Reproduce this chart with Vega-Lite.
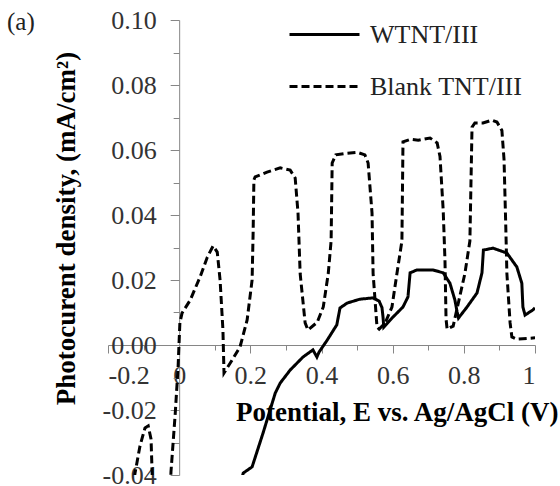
{
  "$schema": "https://vega.github.io/schema/vega-lite/v6.json",
  "autosize": {"type": "none"},
  "width": 427,
  "height": 455,
  "padding": {"left": 108, "top": 20, "right": 25, "bottom": 11},
  "background": "white",
  "title": {
    "text": "(a)",
    "anchor": "start",
    "frame": "group",
    "orient": "top",
    "offset": 0,
    "dx": -101,
    "dy": 49,
    "baseline": "middle",
    "font": "Liberation Serif",
    "fontSize": 25,
    "fontWeight": "normal",
    "color": "#222222"
  },
  "config": {
    "font": "Liberation Serif",
    "view": {"stroke": null},
    "axis": {
      "grid": false,
      "domainColor": "#868686",
      "domainWidth": 1,
      "tickColor": "#868686",
      "tickWidth": 1,
      "labelFont": "Liberation Serif",
      "labelFontSize": 26,
      "labelColor": "#333333",
      "titleFont": "Liberation Serif",
      "titleFontSize": 27,
      "titleFontWeight": "bold",
      "titleColor": "black",
      "labelOverlap": false
    }
  },
  "data": {
    "values": [
      {"series": "Blank TNT/III", "x": -0.135, "y": -0.048},
      {"series": "Blank TNT/III", "x": -0.124, "y": -0.0394},
      {"series": "Blank TNT/III", "x": -0.11, "y": -0.031},
      {"series": "Blank TNT/III", "x": -0.096, "y": -0.0255},
      {"series": "Blank TNT/III", "x": -0.087, "y": -0.0249},
      {"series": "Blank TNT/III", "x": -0.079, "y": -0.029},
      {"series": "Blank TNT/III", "x": -0.076, "y": -0.0394},
      {"series": "Blank TNT/III", "x": -0.073, "y": -0.05},
      {"series": "Blank TNT/III", "x": -0.05, "y": -0.07},
      {"series": "Blank TNT/III", "x": -0.027, "y": -0.05},
      {"series": "Blank TNT/III", "x": -0.023, "y": -0.039},
      {"series": "Blank TNT/III", "x": -0.011, "y": -0.021},
      {"series": "Blank TNT/III", "x": -0.003, "y": -0.0068},
      {"series": "Blank TNT/III", "x": 0.0, "y": 0.0015},
      {"series": "Blank TNT/III", "x": 0.002, "y": 0.0068},
      {"series": "Blank TNT/III", "x": 0.008, "y": 0.0098},
      {"series": "Blank TNT/III", "x": 0.031, "y": 0.0138},
      {"series": "Blank TNT/III", "x": 0.059, "y": 0.021},
      {"series": "Blank TNT/III", "x": 0.079, "y": 0.027},
      {"series": "Blank TNT/III", "x": 0.0955, "y": 0.0305},
      {"series": "Blank TNT/III", "x": 0.107, "y": 0.0286},
      {"series": "Blank TNT/III", "x": 0.115, "y": 0.02},
      {"series": "Blank TNT/III", "x": 0.123, "y": 0.0046},
      {"series": "Blank TNT/III", "x": 0.126, "y": -0.0086},
      {"series": "Blank TNT/III", "x": 0.149, "y": -0.0046},
      {"series": "Blank TNT/III", "x": 0.171, "y": -0.0006},
      {"series": "Blank TNT/III", "x": 0.191, "y": 0.0077},
      {"series": "Blank TNT/III", "x": 0.205, "y": 0.02},
      {"series": "Blank TNT/III", "x": 0.208, "y": 0.0354},
      {"series": "Blank TNT/III", "x": 0.21, "y": 0.0508},
      {"series": "Blank TNT/III", "x": 0.2135, "y": 0.0517},
      {"series": "Blank TNT/III", "x": 0.247, "y": 0.0532},
      {"series": "Blank TNT/III", "x": 0.284, "y": 0.0545},
      {"series": "Blank TNT/III", "x": 0.312, "y": 0.0538},
      {"series": "Blank TNT/III", "x": 0.326, "y": 0.0514},
      {"series": "Blank TNT/III", "x": 0.334, "y": 0.0406},
      {"series": "Blank TNT/III", "x": 0.34, "y": 0.022},
      {"series": "Blank TNT/III", "x": 0.354, "y": 0.0068},
      {"series": "Blank TNT/III", "x": 0.362, "y": 0.0046},
      {"series": "Blank TNT/III", "x": 0.388, "y": 0.007},
      {"series": "Blank TNT/III", "x": 0.405, "y": 0.0117},
      {"series": "Blank TNT/III", "x": 0.419, "y": 0.022},
      {"series": "Blank TNT/III", "x": 0.427, "y": 0.032},
      {"series": "Blank TNT/III", "x": 0.43, "y": 0.056},
      {"series": "Blank TNT/III", "x": 0.44, "y": 0.0585},
      {"series": "Blank TNT/III", "x": 0.47, "y": 0.059},
      {"series": "Blank TNT/III", "x": 0.5, "y": 0.0593},
      {"series": "Blank TNT/III", "x": 0.522, "y": 0.0585},
      {"series": "Blank TNT/III", "x": 0.531, "y": 0.056},
      {"series": "Blank TNT/III", "x": 0.542, "y": 0.0406},
      {"series": "Blank TNT/III", "x": 0.545, "y": 0.022},
      {"series": "Blank TNT/III", "x": 0.556, "y": 0.0055},
      {"series": "Blank TNT/III", "x": 0.562, "y": 0.0049},
      {"series": "Blank TNT/III", "x": 0.579, "y": 0.0068},
      {"series": "Blank TNT/III", "x": 0.598, "y": 0.0117},
      {"series": "Blank TNT/III", "x": 0.612, "y": 0.022},
      {"series": "Blank TNT/III", "x": 0.626, "y": 0.032},
      {"series": "Blank TNT/III", "x": 0.629, "y": 0.0625},
      {"series": "Blank TNT/III", "x": 0.65, "y": 0.0633},
      {"series": "Blank TNT/III", "x": 0.672, "y": 0.063},
      {"series": "Blank TNT/III", "x": 0.705, "y": 0.0637},
      {"series": "Blank TNT/III", "x": 0.725, "y": 0.0622},
      {"series": "Blank TNT/III", "x": 0.733, "y": 0.058},
      {"series": "Blank TNT/III", "x": 0.742, "y": 0.0415},
      {"series": "Blank TNT/III", "x": 0.747, "y": 0.026},
      {"series": "Blank TNT/III", "x": 0.75, "y": 0.008},
      {"series": "Blank TNT/III", "x": 0.753, "y": 0.0049},
      {"series": "Blank TNT/III", "x": 0.77, "y": 0.0058},
      {"series": "Blank TNT/III", "x": 0.803, "y": 0.022},
      {"series": "Blank TNT/III", "x": 0.817, "y": 0.032},
      {"series": "Blank TNT/III", "x": 0.823, "y": 0.067},
      {"series": "Blank TNT/III", "x": 0.831, "y": 0.0683},
      {"series": "Blank TNT/III", "x": 0.854, "y": 0.0683},
      {"series": "Blank TNT/III", "x": 0.879, "y": 0.0692},
      {"series": "Blank TNT/III", "x": 0.893, "y": 0.0686},
      {"series": "Blank TNT/III", "x": 0.907, "y": 0.066},
      {"series": "Blank TNT/III", "x": 0.913, "y": 0.057},
      {"series": "Blank TNT/III", "x": 0.918, "y": 0.036},
      {"series": "Blank TNT/III", "x": 0.921, "y": 0.022},
      {"series": "Blank TNT/III", "x": 0.93, "y": 0.0068},
      {"series": "Blank TNT/III", "x": 0.935, "y": 0.0025},
      {"series": "Blank TNT/III", "x": 0.949, "y": 0.0018},
      {"series": "Blank TNT/III", "x": 1.0, "y": 0.0022},
      {"series": "WTNT/III", "x": 0.172, "y": -0.043},
      {"series": "WTNT/III", "x": 0.18, "y": -0.0394},
      {"series": "WTNT/III", "x": 0.205, "y": -0.0375},
      {"series": "WTNT/III", "x": 0.236, "y": -0.027},
      {"series": "WTNT/III", "x": 0.27, "y": -0.0148},
      {"series": "WTNT/III", "x": 0.284, "y": -0.0117},
      {"series": "WTNT/III", "x": 0.312, "y": -0.0077},
      {"series": "WTNT/III", "x": 0.348, "y": -0.0037},
      {"series": "WTNT/III", "x": 0.376, "y": -0.0015},
      {"series": "WTNT/III", "x": 0.387, "y": -0.0037},
      {"series": "WTNT/III", "x": 0.393, "y": -0.0022},
      {"series": "WTNT/III", "x": 0.416, "y": 0.0015},
      {"series": "WTNT/III", "x": 0.443, "y": 0.0062},
      {"series": "WTNT/III", "x": 0.452, "y": 0.0114},
      {"series": "WTNT/III", "x": 0.472, "y": 0.0129},
      {"series": "WTNT/III", "x": 0.508, "y": 0.0141},
      {"series": "WTNT/III", "x": 0.545, "y": 0.0145},
      {"series": "WTNT/III", "x": 0.562, "y": 0.0135},
      {"series": "WTNT/III", "x": 0.57, "y": 0.0115},
      {"series": "WTNT/III", "x": 0.573, "y": 0.0085},
      {"series": "WTNT/III", "x": 0.575, "y": 0.0055},
      {"series": "WTNT/III", "x": 0.601, "y": 0.0086},
      {"series": "WTNT/III", "x": 0.629, "y": 0.0117},
      {"series": "WTNT/III", "x": 0.643, "y": 0.0148},
      {"series": "WTNT/III", "x": 0.649, "y": 0.0222},
      {"series": "WTNT/III", "x": 0.668, "y": 0.0231},
      {"series": "WTNT/III", "x": 0.713, "y": 0.0231},
      {"series": "WTNT/III", "x": 0.742, "y": 0.0222},
      {"series": "WTNT/III", "x": 0.761, "y": 0.019},
      {"series": "WTNT/III", "x": 0.775, "y": 0.0138},
      {"series": "WTNT/III", "x": 0.781, "y": 0.0102},
      {"series": "WTNT/III", "x": 0.785, "y": 0.0083},
      {"series": "WTNT/III", "x": 0.809, "y": 0.0117},
      {"series": "WTNT/III", "x": 0.837, "y": 0.016},
      {"series": "WTNT/III", "x": 0.851, "y": 0.0222},
      {"series": "WTNT/III", "x": 0.855, "y": 0.0292},
      {"series": "WTNT/III", "x": 0.882, "y": 0.0298},
      {"series": "WTNT/III", "x": 0.921, "y": 0.0283},
      {"series": "WTNT/III", "x": 0.949, "y": 0.024},
      {"series": "WTNT/III", "x": 0.963, "y": 0.019},
      {"series": "WTNT/III", "x": 0.966, "y": 0.0117},
      {"series": "WTNT/III", "x": 0.972, "y": 0.0092},
      {"series": "WTNT/III", "x": 0.994, "y": 0.0108},
      {"series": "WTNT/III", "x": 1.0, "y": 0.0114}
    ]
  },
  "mark": {"type": "line", "clip": true, "color": "black", "strokeWidth": 3, "strokeCap": "butt"},
  "encoding": {
    "x": {
      "field": "x",
      "type": "quantitative",
      "scale": {"domain": [-0.2, 1], "nice": false, "zero": false},
      "axis": {
        "title": "Potential, E vs. Ag/AgCl (V)",
        "orient": "bottom",
        "offset": -130,
        "values": [-0.2, -0.1, 0, 0.1, 0.2, 0.3, 0.4, 0.5, 0.6, 0.7, 0.8, 0.9, 1],
        "labelExpr": "round(datum.value*10) % 2 == 0 ? replace(format(datum.value, '.1~f'), '\u2212', '-') : ''",
        "tickSize": {"condition": {"test": "round(datum.value*10) % 2 == 0", "value": 8}, "value": 5},
        "labelPadding": 9,
        "titleX": 450,
        "titleY": 67,
        "titleAlign": "right",
        "titleAnchor": null,
        "titleBaseline": "middle"
      }
    },
    "y": {
      "field": "y",
      "type": "quantitative",
      "scale": {"domain": [-0.04, 0.1], "nice": false, "zero": false},
      "axis": {
        "title": "Photocurent density, (mA/cm²)",
        "orient": "left",
        "offset": -71.17,
        "values": [-0.04, -0.03, -0.02, -0.01, 0, 0.01, 0.02, 0.03, 0.04, 0.05, 0.06, 0.07, 0.08, 0.09, 0.1],
        "labelExpr": "round(datum.value*100) % 2 == 0 ? replace(format(datum.value, '.2f'), '\u2212', '-') : ''",
        "tickSize": {"condition": {"test": "round(datum.value*100) % 2 == 0", "value": 9}, "value": 6},
        "labelPadding": 14,
        "titlePadding": 22,
        "titleY": 208
      }
    },
    "strokeDash": {
      "field": "series",
      "type": "nominal",
      "scale": {"domain": ["WTNT/III", "Blank TNT/III"], "range": [[1, 0], [8, 4]]},
      "legend": {
        "title": null,
        "orient": "none",
        "legendX": 180,
        "legendY": -22,
        "padding": 0,
        "symbolType": "stroke",
        "symbolSize": 4900,
        "symbolStrokeWidth": 3,
        "symbolStrokeColor": "black",
        "labelFont": "Liberation Serif",
        "labelFontSize": 26,
        "labelColor": "#222222",
        "labelOffset": 9,
        "rowPadding": 2
      }
    }
  }
}
